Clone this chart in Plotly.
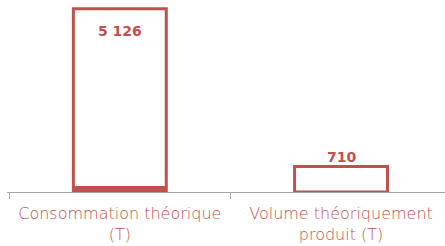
import plotly.graph_objects as go

categories = ["Consommation théorique<br>(T)", "Volume théoriquement<br>produit (T)"]
values = [5126, 710]
base_fill = [170, 0]  # small filled segment visible at the bottom of the first bar

RED = "#c0504d"

fig = go.Figure()
fig.add_trace(go.Bar(
    x=categories, y=base_fill, width=0.42,
    marker=dict(color=RED, line=dict(color=RED, width=0)),
    hoverinfo="skip",
))
fig.add_trace(go.Bar(
    x=categories, y=values, width=0.42,
    marker=dict(color="rgba(255,255,255,0)", line=dict(color=RED, width=3)),
))

shifts = [-22, 10]
for c, v, s in zip(categories, values, shifts):
    fig.add_annotation(
        x=c, y=v, yshift=s, showarrow=False,
        text=f"{v:,}".replace(",", " "),
        font=dict(family="DejaVu Sans", size=14, color=RED, weight="bold"),
        yanchor="middle",
    )

fig.update_layout(
    width=445, height=246,
    margin=dict(l=7, r=0, t=6, b=54),
    barmode="overlay",
    showlegend=False,
    paper_bgcolor="white", plot_bgcolor="white",
    xaxis=dict(
        range=[-0.51, 1.47],
        automargin=False,
        showline=True, linecolor="#a6a6a6", linewidth=1,
        ticks="outside", tickson="boundaries", ticklen=6, tickcolor="#a6a6a6",
        ticklabelstandoff=7,
        tickfont=dict(family="DejaVu Sans", size=16, color=RED, weight=200),
        showgrid=False,
    ),
    yaxis=dict(range=[0, 5200], visible=False, showgrid=False, automargin=False),
)

fig.write_html(
    "out.html",
    config={"displayModeBar": False},
    post_script="document.body.style.margin='0';document.body.style.overflow='hidden';",
)
